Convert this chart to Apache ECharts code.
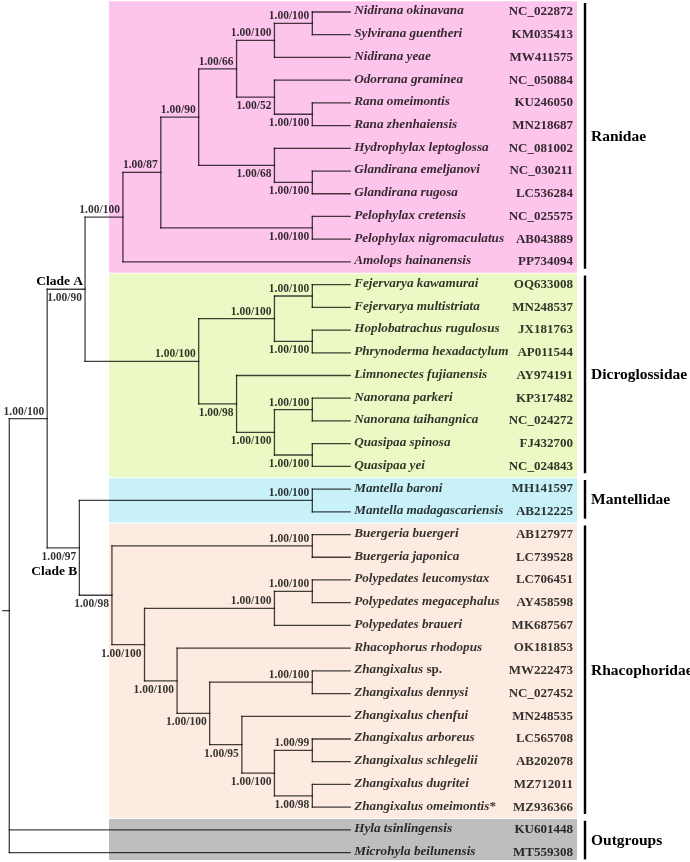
<!DOCTYPE html>
<html><head><meta charset="utf-8">
<script src="https://cdn.jsdelivr.net/npm/echarts@6/dist/echarts.min.js"></script>
<style>html,body{margin:0;padding:0;background:#fff}#c{width:690px;height:862px}</style>
</head><body><div id="c"></div>
<script>
// ---------------- DATA ----------------
const taxa = [
 'Nidirana okinavana','Sylvirana guentheri','Nidirana yeae','Odorrana graminea','Rana omeimontis','Rana zhenhaiensis',
 'Hydrophylax leptoglossa','Glandirana emeljanovi','Glandirana rugosa','Pelophylax cretensis','Pelophylax nigromaculatus','Amolops hainanensis',
 'Fejervarya kawamurai','Fejervarya multistriata','Hoplobatrachus rugulosus','Phrynoderma hexadactylum','Limnonectes fujianensis',
 'Nanorana parkeri','Nanorana taihangnica','Quasipaa spinosa','Quasipaa yei',
 'Mantella baroni','Mantella madagascariensis',
 'Buergeria buergeri','Buergeria japonica','Polypedates leucomystax','Polypedates megacephalus','Polypedates braueri','Rhacophorus rhodopus',
 'Zhangixalus sp.','Zhangixalus dennysi','Zhangixalus chenfui','Zhangixalus arboreus','Zhangixalus schlegelii','Zhangixalus dugritei','Zhangixalus omeimontis*',
 'Hyla tsinlingensis','Microhyla beilunensis'
];
const accessions = [
 'NC_022872','KM035413','MW411575','NC_050884','KU246050','MN218687','NC_081002','NC_030211','LC536284','NC_025575','AB043889','PP734094',
 'OQ633008','MN248537','JX181763','AP011544','AY974191','KP317482','NC_024272','FJ432700','NC_024843',
 'MH141597','AB212225',
 'AB127977','LC739528','LC706451','AY458598','MK687567','OK181853','MW222473','NC_027452','MN248535','LC565708','AB202078','MZ712011','MZ936366',
 'KU601448','MT559308'
];
// parent internal node of each tip
const tipParent = [8,8,7,9,10,10,11,12,12,13,13,3, 16,16,17,17,18,20,20,21,21, 23,23, 25,25,28,28,27,29,31,31,32,34,34,35,35, 0,0];
const tipDepth = 9;
// internal nodes
const nodeParent = [-1,0,1,2,3,4,5,6,7,6,9,5,11,4, 2,14,15,15,14,18,19,19, 1,22,22,24,24,26,27,26,29,30,30,32,33,33];
const nodeDepth  = [0,1,2,3,4,5,6,7,8,7,8,7,8,8, 5,7,8,8,6,7,8,8, 1.85,8,2.71,8,3.57,7,8,4.43,5.29,8,6.14,7,8,8];
const nodeSupport = ['', '1.00/100','1.00/90','1.00/100','1.00/87','1.00/90','1.00/66','1.00/100','1.00/100','1.00/52','1.00/100','1.00/68','1.00/100','1.00/100',
 '1.00/100','1.00/100','1.00/100','1.00/100','1.00/98','1.00/100','1.00/100','1.00/100',
 '1.00/97','1.00/100','1.00/98','1.00/100','1.00/100','1.00/100','1.00/100','1.00/100','1.00/100','1.00/100','1.00/95','1.00/100','1.00/99','1.00/98'];
const supportSide = ['a','a','b','a','a','a','a','a','a','b','b','b','b','b',
 'a','a','a','b','b','b','a','b',
 'b','a','b','a','b','a','a','b','b','a','b','b','a','b'];
const cladeNode = [2, 22];
const cladeName = ['Clade A', 'Clade B'];
const cladeSide = ['a', 'b'];
const rootRow = 26.35;
const rootStubDepth = -0.17;
const familyNames = ['Ranidae','Dicroglossidae','Mantellidae','Rhacophoridae','Outgroups'];
const familyFirst = [0,12,21,23,36];
const familyLast  = [11,20,22,35,37];
const familyColors = ['#FDC4EC','#ECF9C4','#C8F1FA','#FDEBE1','#BEBEBE'];

// ---------------- TREE LAYOUT (from data) ----------------
const nInt = nodeParent.length;
const children = Array.from({length: nInt}, () => []);
nodeParent.forEach((p, i) => { if (p >= 0) children[p].push({t: 'n', i}); });
tipParent.forEach((p, i) => children[p].push({t: 't', i}));
const nodeRow = new Array(nInt);
function childRow(c) { return c.t === 't' ? c.i : calcRow(c.i); }
function calcRow(n) {
  if (nodeRow[n] !== undefined) return nodeRow[n];
  const rows = children[n].map(childRow);
  nodeRow[n] = (Math.min(...rows) + Math.max(...rows)) / 2;
  return nodeRow[n];
}
for (let n = 0; n < nInt; n++) calcRow(n);
nodeRow[0] = rootRow;

const segs = [];
for (let n = 0; n < nInt; n++) {
  const rows = children[n].map(c => c.t === 't' ? c.i : nodeRow[c.i]);
  segs.push([nodeDepth[n], Math.min(...rows), nodeDepth[n], Math.max(...rows)]);
  if (nodeParent[n] >= 0) segs.push([nodeDepth[nodeParent[n]], nodeRow[n], nodeDepth[n], nodeRow[n]]);
}
tipParent.forEach((p, i) => segs.push([nodeDepth[p], i, tipDepth, i]));
segs.push([rootStubDepth, rootRow, nodeDepth[0], rootRow]);

const supportData = [];
for (let n = 1; n < nInt; n++) supportData.push([nodeDepth[n], nodeRow[n], nodeSupport[n], supportSide[n]]);
const cladeData = cladeNode.map((n, k) => [nodeDepth[n], nodeRow[n], cladeName[k], cladeSide[k]]);
const tipData = taxa.map((t, i) => [tipDepth, i, t, accessions[i]]);
const famData = familyNames.map((f, i) => [0, familyFirst[i], familyLast[i], f, i]);

// ---------------- STYLE ----------------
const SERIF = "'Liberation Serif','Times New Roman',Times,serif";
const LINE = 'rgba(0,0,0,0.74)';
const TXT = 'rgba(0,0,0,0.80)';
const BAND_X0 = 109, BAND_X1 = 577, ACC_X = 573, BAR_X = 585, FAM_X = 591;
const FONT_I = 'italic bold 13.2px ' + SERIF;
const FONT_N = 'bold 13.2px ' + SERIF;
const FONT_B = 'bold 13px ' + SERIF;
const mctx = document.createElement('canvas').getContext('2d');
function textW(s, f) { mctx.font = f; return mctx.measureText(s).width; }
function splitName(t) {
  if (t.endsWith(' sp.')) return [t.slice(0, -4), ' sp.'];
  if (t.endsWith('*')) return [t.slice(0, -1), '*'];
  return [t, ''];
}

function txt(x, y, s, font, fill, align) {
  return {type: 'text', x: x, y: y, style: {text: s, font: font, fill: fill, align: align, verticalAlign: 'middle', textAlign: align, textVerticalAlign: 'middle'}};
}

const option = {
  animation: false,
  grid: {left: 9.3, right: 339.8, top: 12, bottom: 9.4},
  xAxis: {type: 'value', min: 0, max: 9, show: false},
  yAxis: {type: 'value', min: 0, max: 37, inverse: true, show: false},
  series: [
    { // family bands
      type: 'custom', clip: false, z: 1, data: famData,
      renderItem: (p, api) => {
        const y0 = api.coord([0, api.value(1) - 0.5])[1];
        const y1 = api.coord([0, api.value(2) + 0.5])[1];
        const top = Math.max(0.6, y0 + 0.6), bot = Math.min(860, y1 - 0.6);
        return {type: 'rect', shape: {x: BAND_X0, y: top, width: BAND_X1 - BAND_X0, height: bot - top},
          style: {fill: familyColors[api.value(4)]}};
      }
    },
    { // branches
      type: 'custom', clip: false, z: 2, data: segs,
      renderItem: (p, api) => {
        const a = api.coord([api.value(0), api.value(1)]);
        const b = api.coord([api.value(2), api.value(3)]);
        return {type: 'line', shape: {x1: a[0], y1: a[1], x2: b[0], y2: b[1]},
          style: {stroke: LINE, lineWidth: 1.3, lineCap: 'square'}};
      }
    },
    { // support values
      type: 'custom', clip: false, z: 3, data: supportData,
      renderItem: (p, api) => {
        const c = api.coord([api.value(0), api.value(1)]);
        const side = supportData[p.dataIndex][3];
        return txt(c[0] - 3, c[1] + (side === 'a' ? -7 : 9), supportData[p.dataIndex][2], 'bold 11.5px ' + SERIF, TXT, 'right');
      }
    },
    { // clade names
      type: 'custom', clip: false, z: 3, data: cladeData,
      renderItem: (p, api) => {
        const c = api.coord([api.value(0), api.value(1)]);
        const side = cladeData[p.dataIndex][3];
        return txt(c[0] - 2, c[1] + (side === 'a' ? -8 : 23.5), cladeData[p.dataIndex][2], 'bold 13.5px ' + SERIF, '#000', 'right');
      }
    },
    { // taxon names + accessions
      type: 'custom', clip: false, z: 3, data: tipData,
      renderItem: (p, api) => {
        const c = api.coord([api.value(0), api.value(1)]);
        const d = tipData[p.dataIndex];
        const parts = splitName(d[2]);
        const kids = [txt(c[0] + 4, c[1] - 1, parts[0], FONT_I, TXT, 'left')];
        if (parts[1]) kids.push(txt(c[0] + 4 + textW(parts[0], FONT_I), c[1] - 1, parts[1], FONT_N, TXT, 'left'));
        kids.push(txt(ACC_X, c[1], d[3], FONT_B, TXT, 'right'));
        return {type: 'group', children: kids};
      }
    },
    { // family bars + labels
      type: 'custom', clip: false, z: 3, data: famData,
      renderItem: (p, api) => {
        const y0 = Math.max(1, api.coord([0, api.value(1) - 0.4])[1]);
        const y1 = api.coord([0, api.value(2) + 0.3])[1];
        return {type: 'group', children: [
          {type: 'line', shape: {x1: BAR_X, y1: y0, x2: BAR_X, y2: y1}, style: {stroke: '#000', lineWidth: 2.4}},
          txt(FAM_X, (y0 + y1) / 2 + 1, familyNames[api.value(4)], 'bold 15.5px ' + SERIF, '#000', 'left')
        ]};
      }
    }
  ]
};
const chart = echarts.init(document.getElementById('c'));
chart.setOption(option);
</script></body></html>
